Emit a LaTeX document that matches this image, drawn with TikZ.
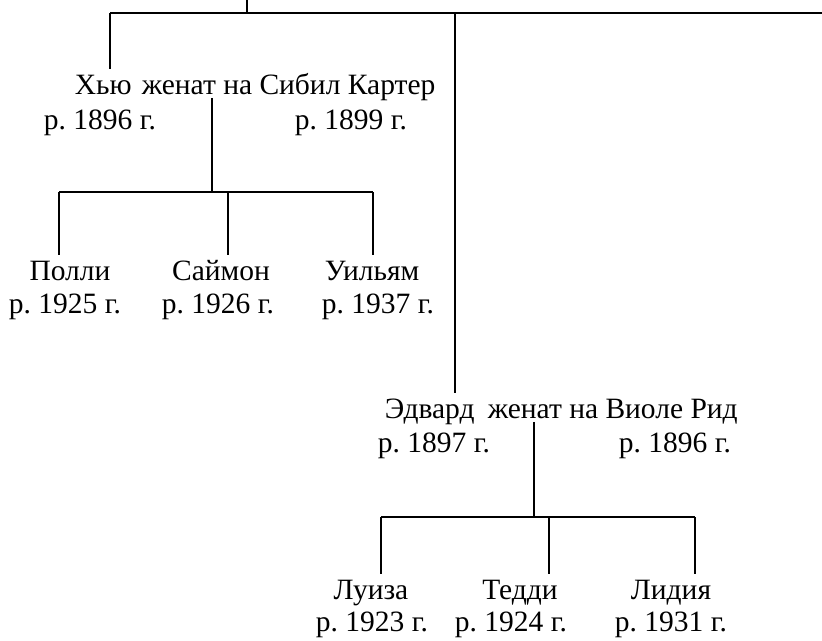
\documentclass[tikz,border=0pt]{standalone}
\usepackage{fontspec}
\setmainfont{Liberation Serif}
\usepackage{tikz}
\usetikzlibrary{calc}
\frenchspacing

\begin{document}
\begin{tikzpicture}[x=1pt, y=-1pt, line width=1.6pt,
        person/.style={font=\fontsize{29.5}{35}\selectfont, inner sep=0pt, text height=24pt, text depth=3pt, anchor=base},
        couple/.style={person, anchor=base west}]

        \useasboundingbox (0,0) rectangle (822,640);

        \coordinate (root) at (247,0);
        \coordinate (rootbar) at (247,13);
        \coordinate (hughbar) at (110,13);
        \coordinate (edbar) at (455,13);
        \coordinate (rightend) at (822,13);

        % Hugh and Sybil
        \node[couple] (hugh) at (74,94) {Хью};
        \node[couple] (sybil) at (141,94) {женат на Сибил Картер};
        \node[person] (hughyr) at (100,129) {р. 1896 г.};
        \node[person] (sybilyr) at (351,129) {р. 1899 г.};

        % Edward and Viola
        \node[couple] (edward) at (384,418) {Эдвард};
        \node[couple] (viola) at (487,418) {женат на Виоле Рид};
        \node[person] (edwardyr) at (434,452) {р. 1897 г.};
        \node[person] (violayr) at (675,452) {р. 1896 г.};

        % children of Hugh
        \node[person] (polly) at (70,280) {Полли};
        \node[person] (pollyyr) at (65,313) {р. 1925 г.};
        \node[person] (simon) at (221,280) {Саймон};
        \node[person] (simonyr) at (218,313) {р. 1926 г.};
        \node[person] (william) at (372,280) {Уильям};
        \node[person] (williamyr) at (378,313) {р. 1937 г.};

        % children of Edward
        \node[person] (louisa) at (371,599) {Луиза};
        \node[person] (louisayr) at (372,631) {р. 1923 г.};
        \node[person] (teddy) at (520,599) {Тедди};
        \node[person] (teddyyr) at (511,631) {р. 1924 г.};
        \node[person] (lydia) at (671,599) {Лидия};
        \node[person] (lydiayr) at (671,631) {р. 1931 г.};

        \coordinate (hughstem) at (212,192);
        \coordinate (pollybar) at (59,192);
        \coordinate (simonbar) at (228,192);
        \coordinate (williambar) at (373,192);

        \coordinate (edstem) at (534,517);
        \coordinate (louisabar) at (381,517);
        \coordinate (teddybar) at (549,517);
        \coordinate (lydiabar) at (695,517);

        \draw (root) -- (rootbar);
        \draw (hughbar) -- (rightend);
        \draw (hughbar) -- (hughbar |- hugh.north);
        \draw (edbar) -- (edbar |- edward.north);

        \draw (hughstem |- sybil.south) -- (hughstem);
        \draw (pollybar) -- (williambar);
        \foreach \kid/\j in {polly/pollybar, simon/simonbar, william/williambar}
            \draw (\j) -- (\j |- \kid.north);

        \draw (edstem |- viola.south) -- (edstem);
        \draw (louisabar) -- (lydiabar);
        \foreach \kid/\j in {louisa/louisabar, teddy/teddybar, lydia/lydiabar}
            \draw (\j) -- (\j |- \kid.north);

\end{tikzpicture}
\end{document}
